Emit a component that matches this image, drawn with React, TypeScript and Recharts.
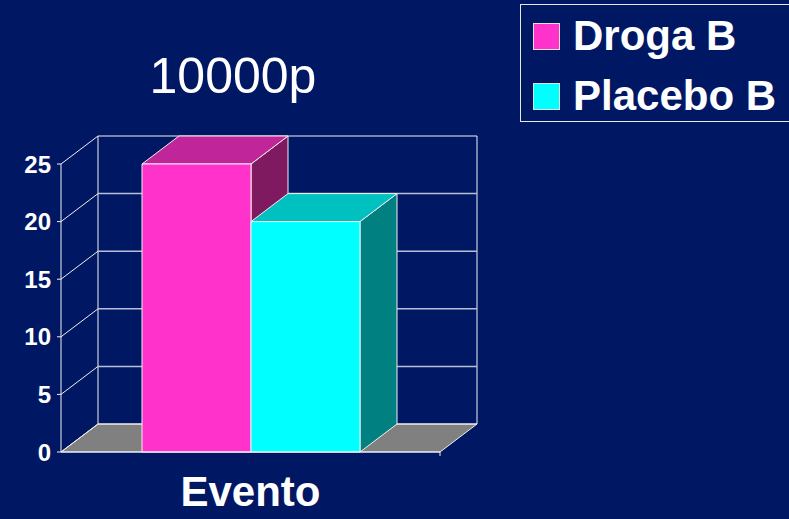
import { BarChart, Bar, XAxis, YAxis, CartesianGrid, Legend } from "recharts";

const categories = ["Evento"];
const drogaB = [25];
const placeboB = [20];
const yTicks = [0, 5, 10, 15, 20, 25];

const BG = "#001864";
const FONT = '"Liberation Sans", Arial, sans-serif';
const DX = 37;
const DY = 28;

const data = categories.map((name, i) => ({ name, droga: drogaB[i], placebo: placeboB[i] }));

const make3D = (top: string, side: string) => (p: any) => {
    const { x, y, width, height, fill } = p;
    if (height == null || width == null) return null;
    const x2 = x + width;
    const y2 = y + height;
    const edge = { stroke: "#f0f0f0", strokeWidth: 1, strokeLinejoin: "round" as const };
    return (
        <g>
            <polygon
                points={`${x2},${y} ${x2 + DX},${y - DY} ${x2 + DX},${y2 - DY} ${x2},${y2}`}
                fill={side}
                {...edge}
            />
            <polygon
                points={`${x},${y} ${x + DX},${y - DY} ${x2 + DX},${y - DY} ${x2},${y}`}
                fill={top}
                {...edge}
            />
            <rect x={x} y={y} width={width} height={height} fill={fill} {...edge} />
        </g>
    );
};

const gridLine = (p: any) => {
    const { x1, y1, x2, y2 } = p;
    const bottom = p.y + p.height;
    const isBottom = Math.abs(y1 - bottom) < 0.5;
    const isTop = Math.abs(y1 - p.y) < 0.5;
    return (
        <g key={p.key}>
            {isBottom && (
                <g>
                    <polygon
                        points={`${x1},${y1} ${x1 + DX},${y1 - DY} ${x2 + DX},${y2 - DY} ${x2},${y2}`}
                        fill="#808080"
                        stroke="#f0f0f0"
                        strokeWidth={1}
                    />
                    <line x1={x1 + DX} y1={y1 - DY} x2={x1 + DX} y2={p.y - DY} stroke="#f0f0f0" />
                    <line x1={x2 + DX} y1={y2 - DY} x2={x2 + DX} y2={p.y - DY} stroke="#f0f0f0" />
                    <line x1={x2} y1={y2} x2={x2} y2={y2 + 4} stroke="#f0f0f0" />
                </g>
            )}
            <line x1={x1} y1={y1} x2={x1 + DX} y2={y1 - DY} stroke="#f0f0f0" />
            <line
                x1={x1 + DX}
                y1={y1 - DY}
                x2={x2 + DX}
                y2={y2 - DY}
                stroke={isTop || isBottom ? "#f0f0f0" : "#b8bed6"}
                strokeWidth={isTop || isBottom ? 1 : 1.5}
            />
        </g>
    );
};

const renderLegend = (props: any) => (
    <div
        style={{
            border: "1px solid #e8e8e8",
            width: 290,
            height: 118,
            boxSizing: "border-box",
            padding: "1px 0 0 12px",
            fontFamily: FONT,
        }}
    >
        {(props.payload || []).map((entry: any) => (
            <div key={entry.value} style={{ display: "flex", alignItems: "center", height: 60 }}>
                <div
                    style={{
                        width: 27,
                        height: 27,
                        background: entry.color,
                        border: "1px solid #e0e0e0",
                        boxSizing: "border-box",
                        marginRight: 13,
                    }}
                />
                <span style={{ color: "#fff", fontWeight: "bold", fontSize: 42, lineHeight: "42px" }}>
                    {entry.value}
                </span>
            </div>
        ))}
    </div>
);

export default function App() {
    return (
        <div
            style={{
                position: "absolute",
                left: 0,
                top: 0,
                width: 789,
                height: 519,
                background: BG,
                overflow: "hidden",
                fontFamily: FONT,
            }}
        >
            <div
                style={{
                    position: "absolute",
                    left: 113,
                    top: 51,
                    width: 240,
                    textAlign: "center",
                    color: "#fff",
                    fontSize: 50,
                    lineHeight: "50px",
                }}
            >
                10000p
            </div>
            <BarChart
                width={789}
                height={519}
                data={data}
                margin={{ top: 164, right: 349, bottom: 7, left: 0 }}
                barGap={0}
                barSize={109}
                style={{ position: "absolute", left: 0, top: 0 }}
            >
                <CartesianGrid vertical={false} horizontal={gridLine} />
                <XAxis
                    dataKey="name"
                    height={60}
                    axisLine={{ stroke: "#f0f0f0" }}
                    tickLine={false}
                    tickSize={0}
                    tickMargin={24}
                    tick={{ fill: "#ffffff", fontSize: 42, fontWeight: "bold", fontFamily: FONT }}
                />
                <YAxis
                    width={61}
                    domain={[0, 25]}
                    ticks={yTicks}
                    interval={0}
                    axisLine={{ stroke: "#f0f0f0" }}
                    tickLine={{ stroke: "#f0f0f0" }}
                    tickSize={4}
                    tickMargin={6}
                    tick={{ fill: "#ffffff", fontSize: 24, fontWeight: "bold", fontFamily: FONT }}
                />
                <Legend
                    layout="horizontal"
                    align="center"
                    verticalAlign="middle"
                    content={renderLegend}
                    wrapperStyle={{ left: 520, top: 4, width: 290, height: 118 }}
                />
                <Bar
                    dataKey="droga"
                    name="Droga B"
                    fill="#ff33cc"
                    shape={make3D("#c0269a", "#801a60")}
                    isAnimationActive={false}
                />
                <Bar
                    dataKey="placebo"
                    name="Placebo B"
                    fill="#00ffff"
                    shape={make3D("#00c0c0", "#008080")}
                    isAnimationActive={false}
                />
            </BarChart>
        </div>
    );
}
